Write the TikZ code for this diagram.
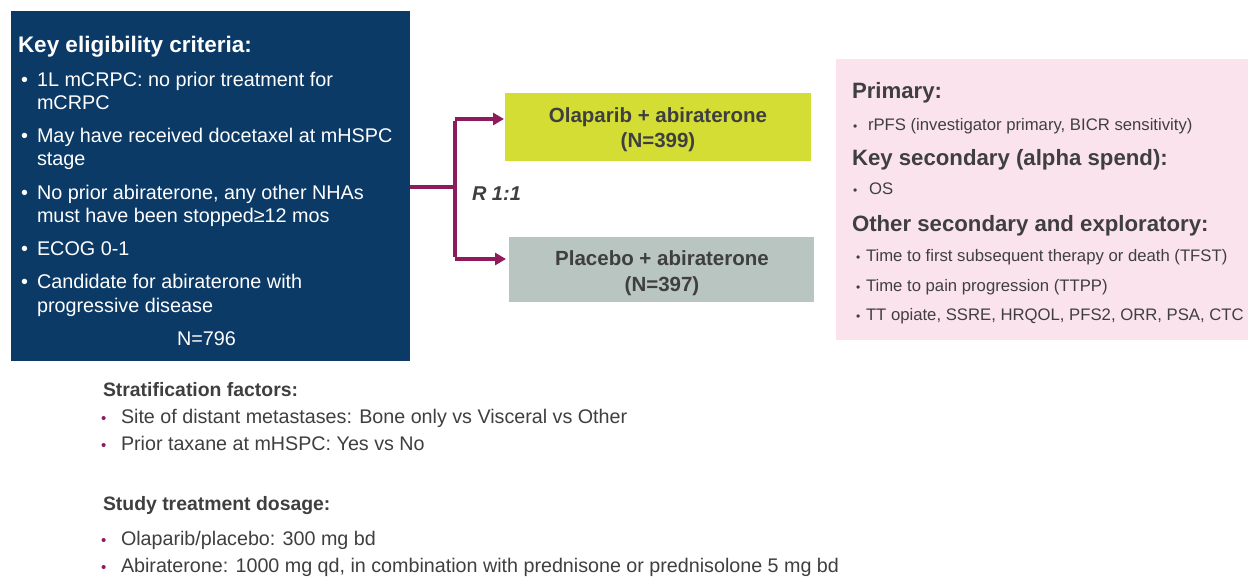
\documentclass[tikz,border=0pt]{standalone}
\usepackage{fontspec}
\setmainfont{Liberation Sans}
\usetikzlibrary{arrows.meta}
\definecolor{navy}{HTML}{0B3A67}
\definecolor{lime}{HTML}{D3DD33}
\definecolor{sage}{HTML}{B8C5C0}
\definecolor{pinkbg}{HTML}{FBE3EE}
\definecolor{plum}{HTML}{8E1B5C}
\definecolor{darktext}{HTML}{3F3F3F}
\tikzset{
  box/.style={rectangle, inner sep=0pt, outer sep=0pt, anchor=north west},
  txt/.style={anchor=base west, inner sep=0pt, outer sep=0pt},
  ctxt/.style={anchor=base, inner sep=0pt, outer sep=0pt},
  navytxt/.style={txt, text=white, font=\fontsize{19.8}{23}\selectfont},
  navyhead/.style={txt, text=white, font=\fontsize{22.5}{26}\selectfont\bfseries},
  armtxt/.style={ctxt, text=darktext, font=\fontsize{20.5}{24}\selectfont\bfseries},
  pinkhead/.style={txt, text=darktext, font=\fontsize{22.2}{26}\selectfont\bfseries},
  pinktxt/.style={txt, text=darktext, font=\fontsize{16.7}{20}\selectfont},
  pinkbul/.style={txt, text=darktext, font=\fontsize{12}{14}\selectfont},
  bothead/.style={txt, text=darktext, font=\fontsize{19.4}{23}\selectfont\bfseries},
  bottxt/.style={txt, text=darktext, font=\fontsize{19.7}{23}\selectfont},
  botbul/.style={txt, text=plum, font=\fontsize{15}{18}\selectfont},
  conn/.style={draw=plum, line width=3.5pt},
  connarrow/.style={conn, -{Triangle[length=11pt,width=12pt]}},
}
\begin{document}
\begin{tikzpicture}[x=1pt, y=-1pt]
\useasboundingbox (0,0) rectangle (1248,576);
\fill[white] (0,0) rectangle (1248,576);
% boxes
\node[box, fill=navy, minimum width=399pt, minimum height=350pt] (navy) at (11,11) {};
\node[box, fill=lime, minimum width=306pt, minimum height=68pt] (green) at (505,93) {};
\node[box, fill=sage, minimum width=305pt, minimum height=65pt] (gray) at (509,237) {};
\node[box, fill=pinkbg, minimum width=412pt, minimum height=281pt] (pink) at (836,59) {};
% navy box text
\node[navyhead] (kh) at (18,52) {Key eligibility criteria:};
\node[navytxt] (b1) at (21,86) {•};
\node[navytxt] (t1a) at (37,86) {1L mCRPC: no prior treatment for};
\node[navytxt] (t1b) at (37,109) {mCRPC};
\node[navytxt] (b2) at (21,142) {•};
\node[navytxt] (t2a) at (37,142) {May have received docetaxel at mHSPC};
\node[navytxt] (t2b) at (37,165) {stage};
\node[navytxt] (b3) at (21,199) {•};
\node[navytxt] (t3a) at (37,199) {No prior abiraterone, any other NHAs};
\node[navytxt] (t3b) at (37,222) {must have been stopped≥12 mos};
\node[navytxt] (b4) at (21,255) {•};
\node[navytxt] (t4a) at (37,255) {ECOG 0-1};
\node[navytxt] (b5) at (21,288) {•};
\node[navytxt] (t5a) at (37,288) {Candidate for abiraterone with};
\node[navytxt] (t5b) at (37,312) {progressive disease};
\node[navytxt, anchor=base] (n796) at (206.5,345) {N=796};
% arms
\node[armtxt] (g1) at (658,122) {Olaparib + abiraterone};
\node[armtxt] (g2) at (658,147) {(N=399)};
\node[armtxt] (p1) at (662,265) {Placebo + abiraterone};
\node[armtxt] (p2) at (662,291) {(N=397)};
\node[txt, text=darktext, font=\fontsize{20}{24}\selectfont\bfseries\itshape] (r11) at (472,200) {R 1:1};
% connectors
\coordinate (split) at (455,187);
\coordinate (up) at (455,119);
\coordinate (down) at (455,259);
\draw[conn] (navy.east |- split) -- (split);
\draw[conn] ([yshift=-1.75pt]up) -- ([yshift=1.75pt]down);
\draw[connarrow] (up) -- ([xshift=-1pt]up -| green.west);
\draw[connarrow] (down) -- ([xshift=-3pt]down -| gray.west);
% pink box text
\node[pinkhead] (ph1) at (852,98) {Primary:};
\node[pinkbul] (pb1) at (853,130) {•};
\node[pinktxt] (pt1) at (868,130) {rPFS (investigator primary, BICR sensitivity)};
\node[pinkhead] (ph2) at (852,165) {Key secondary (alpha spend):};
\node[pinkbul] (pb2) at (853,194) {•};
\node[pinktxt] (pt2) at (869,194) {OS};
\node[pinkhead] (ph3) at (852,231) {Other secondary and exploratory:};
\node[pinkbul] (pb3) at (856,261) {•};
\node[pinktxt] (pt3) at (866,261) {Time to first subsequent therapy or death (TFST)};
\node[pinkbul] (pb4) at (856,291) {•};
\node[pinktxt] (pt4) at (866,291) {Time to pain progression (TTPP)};
\node[pinkbul] (pb5) at (856,320) {•};
\node[pinktxt] (pt5) at (866,320) {TT opiate, SSRE, HRQOL, PFS2, ORR, PSA, CTC};
% bottom text
\node[bothead] (sh) at (103,396) {Stratification factors:};
\node[botbul] (sb1) at (101,423) {•};
\node[bottxt] (st1) at (121,423) {Site of distant metastases: Bone only vs Visceral vs Other};
\node[botbul] (sb2) at (101,450) {•};
\node[bottxt] (st2) at (121,450) {Prior taxane at mHSPC: Yes vs No};
\node[bothead] (dh) at (103,510) {Study treatment dosage:};
\node[botbul] (db1) at (101,545) {•};
\node[bottxt] (dt1) at (121,545) {Olaparib/placebo: 300 mg bd};
\node[botbul] (db2) at (101,572) {•};
\node[bottxt] (dt2) at (121,572) {Abiraterone: 1000 mg qd, in combination with prednisone or prednisolone 5 mg bd};
\end{tikzpicture}
\end{document}
